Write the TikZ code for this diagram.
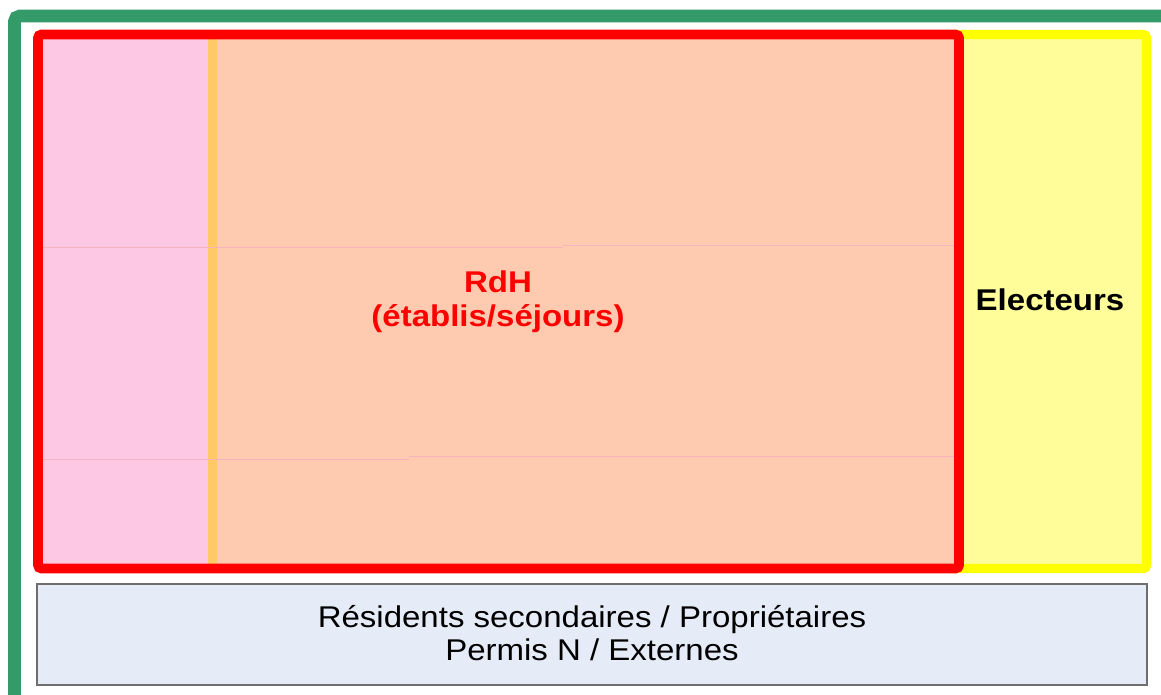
\documentclass[tikz,border=0pt]{standalone}
\usepackage{fontspec}
\setmainfont[FakeStretch=1.1]{Liberation Sans}
\definecolor{frameg}{HTML}{349A68}
\definecolor{rdhred}{HTML}{FF0000}
\definecolor{yelstroke}{HTML}{FFFF00}
\definecolor{yelfill}{HTML}{FFFD99}
\definecolor{pinkfill}{HTML}{FDC8E4}
\definecolor{peachfill}{HTML}{FFCBB0}
\definecolor{stripe}{HTML}{FFC966}
\definecolor{bluefill}{HTML}{E6ECF7}
\definecolor{boxedge}{HTML}{6E6E6E}
\definecolor{faint}{HTML}{F6B4BE}
\tikzset{
  framebox/.style={draw=frameg, line width=9.5pt, rounded corners=4pt},
  redbox/.style={draw=rdhred, line width=7.2pt, rounded corners=2.5pt},
  yelbox/.style={draw=yelstroke, fill=yelfill, line width=7pt, rounded corners=2.5pt},
  bottombox/.style={draw=boxedge, fill=bluefill, line width=1.1pt},
  gridline/.style={draw=faint, line width=0.7pt},
  lbl/.style={align=center, font=\fontsize{22.5}{24.8}\selectfont, inner sep=0pt},
}
\begin{document}
\begin{tikzpicture}[x=0.75pt, y=-0.75pt]
\useasboundingbox (0,0) rectangle (1161,695);
\clip (0,0) rectangle (1161,695);
\fill[white] (0,0) rectangle (1161,695);
% outer green frame (cut off at right and bottom)
\draw[framebox] (14.5,16) rectangle (1190,702);
% yellow electors box
\draw[yelbox] (950,34.5) rectangle (1146.5,568.5);
% fills inside red box
\fill[pinkfill] (38,34.5) rectangle (208,568.5);
\fill[stripe] (208,34.5) rectangle (217,568.5);
\fill[peachfill] (217,34.5) rectangle (959,568.5);
% faint grid lines
\draw[gridline] (43,247) -- (563,247);
\draw[gridline] (563,245) -- (955,245);
\draw[gridline] (43,459) -- (409,459);
\draw[gridline] (409,456) -- (955,456);
% red RdH box
\draw[redbox] (38,34.5) rectangle (959,568.5);
% bottom box
\draw[bottombox] (37,584) rectangle (1147,685);
% labels
\node[lbl, text=rdhred, font=\fontsize{22.5}{25.6}\selectfont\bfseries] (rdh) at (498,302) {RdH\\(établis/séjours)};
\node[lbl, font=\fontsize{22.5}{24.8}\selectfont\bfseries] (elec) at (1050,300) {Electeurs};
\node[lbl] (res) at (592,633.5) {Résidents secondaires / Propriétaires\\Permis N / Externes};
\end{tikzpicture}
\end{document}
